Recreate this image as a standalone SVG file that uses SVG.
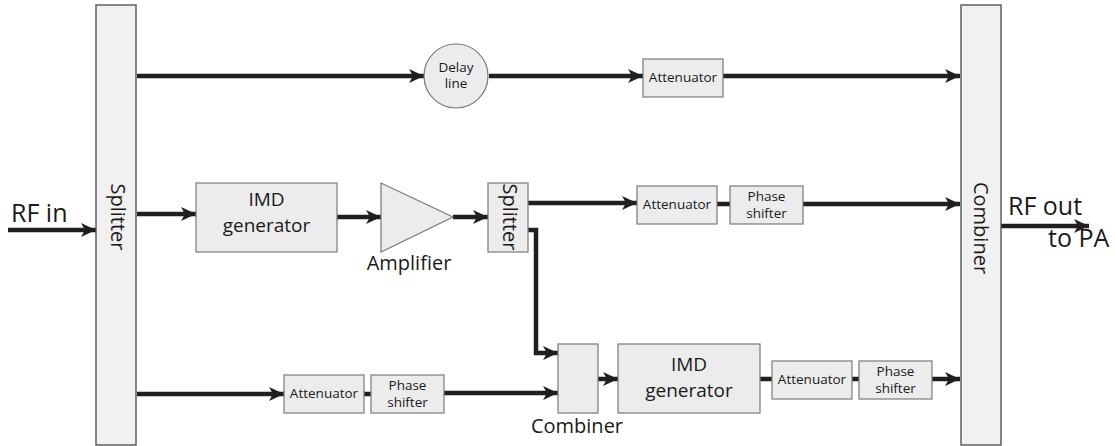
<svg xmlns="http://www.w3.org/2000/svg" width="1115" height="446" viewBox="0 0 1115 446">
  <style>
    .blk { fill: #ececec; stroke: #7a7a7a; stroke-width: 1.2; }
    .bar { fill: #f1f1f1; stroke: #555; stroke-width: 1.4; }
    .wire { fill: none; stroke: #1f1f1f; stroke-width: 4.5; }
    .arr { marker-end: url(#head); }
    text { font-family: "Open Sans", "Liberation Sans", sans-serif; fill: #1a1a1a; }
    .sm { font-size: 13.5px; text-anchor: middle; }
    .md { font-size: 20px; text-anchor: middle; }
    .gen { font-size: 19px; text-anchor: middle; }
    .lg { font-size: 25px; }
  </style>
  <defs>
    <marker id="head" markerUnits="userSpaceOnUse" markerWidth="16" markerHeight="14" refX="15" refY="7" orient="auto">
      <path d="M0,0 L15,7 L0,14 L4,7 Z" fill="#1f1f1f"/>
    </marker>
  </defs>

  <!-- signal connections -->
  <g id="connectors">
    <path class="wire arr" d="M8,230 H96"/>
    <path class="wire arr" d="M137,76 H424"/>
    <path class="wire arr" d="M489,76 H643"/>
    <path class="wire arr" d="M723,76 H960"/>
    <path class="wire arr" d="M137,214 H196"/>
    <path class="wire arr" d="M337,217 H381"/>
    <path class="wire arr" d="M453,217 H488"/>
    <path class="wire arr" d="M528,203 H637"/>
    <path class="wire" d="M717,204 H730"/>
    <path class="wire arr" d="M803,204 H960"/>
    <path class="wire arr" d="M528,230 H536 V353 H558"/>
    <path class="wire arr" d="M137,394 H284"/>
    <path class="wire" d="M364,394 H371"/>
    <path class="wire arr" d="M444,393 H558"/>
    <path class="wire arr" d="M598,379 H618"/>
    <path class="wire" d="M760,379 H772"/>
    <path class="wire" d="M852,379 H859"/>
    <path class="wire arr" d="M932,379 H960"/>
    <path class="wire arr" d="M1001,226 H1089"/>
  </g>

  <g id="rf-in">
    <text class="lg" x="11" y="222">RF in</text>
  </g>

  <g id="splitter-main">
    <rect class="bar" x="96" y="5" width="40" height="440"/>
    <text class="md" font-size="17.5" transform="translate(111,217) rotate(90)">Splitter</text>
  </g>

  <g id="delay-line">
    <circle class="blk" cx="456" cy="76" r="32"/>
    <text class="sm" x="456" y="72">Delay</text>
    <text class="sm" x="456" y="88">line</text>
  </g>

  <g id="attenuator-top">
    <rect class="blk" x="643" y="59" width="80" height="38"/>
    <text class="sm" x="683" y="82">Attenuator</text>
  </g>

  <g id="imd-generator-1">
    <rect class="blk" x="196" y="183" width="141" height="69"/>
    <text class="gen" x="266.5" y="206">IMD</text>
    <text class="gen" x="266.5" y="232">generator</text>
  </g>

  <g id="amplifier">
    <path class="blk" d="M381,183 L453,217 L381,252 Z"/>
    <text class="md" x="409" y="270">Amplifier</text>
  </g>

  <g id="splitter-mid">
    <rect class="blk" x="488" y="183" width="40" height="69"/>
    <text class="md" font-size="14" transform="translate(503,217) rotate(90)">Splitter</text>
  </g>

  <g id="attenuator-mid">
    <rect class="blk" x="637" y="186" width="80" height="38"/>
    <text class="sm" x="677" y="209">Attenuator</text>
  </g>

  <g id="phase-shifter-mid">
    <rect class="blk" x="730" y="186" width="73" height="38"/>
    <text class="sm" x="766.5" y="201">Phase</text>
    <text class="sm" x="766.5" y="218">shifter</text>
  </g>

  <g id="attenuator-bottom">
    <rect class="blk" x="284" y="375" width="80" height="38"/>
    <text class="sm" x="324" y="398">Attenuator</text>
  </g>

  <g id="phase-shifter-bottom">
    <rect class="blk" x="371" y="375" width="73" height="38"/>
    <text class="sm" x="407.5" y="390">Phase</text>
    <text class="sm" x="407.5" y="407">shifter</text>
  </g>

  <g id="combiner-small">
    <rect class="blk" x="558" y="344" width="40" height="69"/>
    <text class="md" x="577" y="433">Combiner</text>
  </g>

  <g id="imd-generator-2">
    <rect class="blk" x="618" y="344" width="142" height="69"/>
    <text class="gen" x="689" y="371">IMD</text>
    <text class="gen" x="689" y="397">generator</text>
  </g>

  <g id="attenuator-right">
    <rect class="blk" x="772" y="361" width="80" height="38"/>
    <text class="sm" x="812" y="384">Attenuator</text>
  </g>

  <g id="phase-shifter-right">
    <rect class="blk" x="859" y="361" width="73" height="38"/>
    <text class="sm" x="895.5" y="376">Phase</text>
    <text class="sm" x="895.5" y="393">shifter</text>
  </g>

  <g id="combiner-main">
    <rect class="bar" x="961" y="5" width="40" height="440"/>
    <text class="md" font-size="20" transform="translate(974,228) rotate(90)">Combiner</text>
  </g>

  <g id="rf-out">
    <text class="lg" x="1008" y="215">RF out</text>
    <text class="lg" x="1048" y="247">to PA</text>
  </g>
</svg>
